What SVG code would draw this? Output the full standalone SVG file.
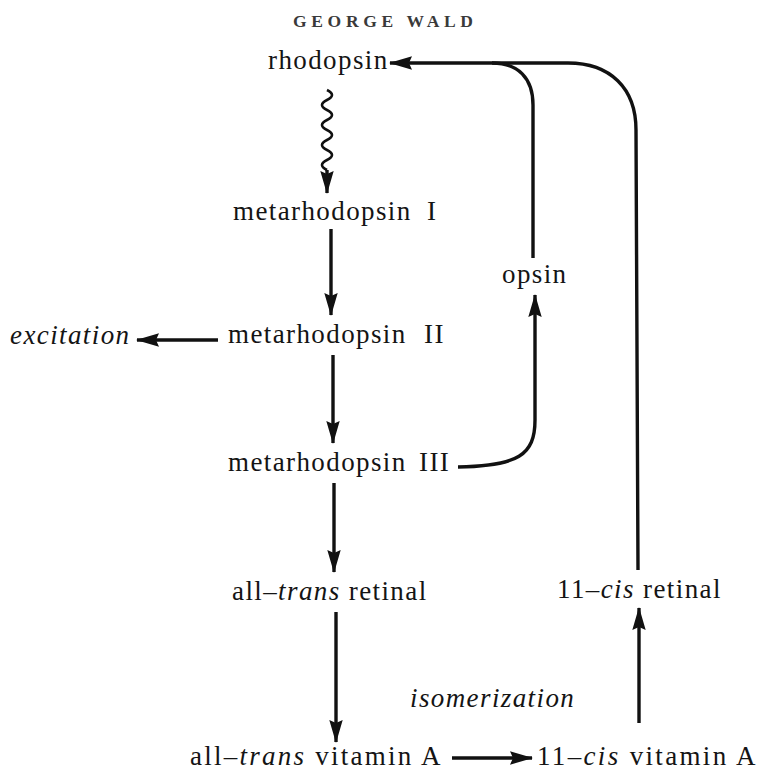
<svg xmlns="http://www.w3.org/2000/svg" width="759" height="770" viewBox="0 0 759 770">
<style>
  .t { font-family: "Liberation Serif", "Times New Roman", serif; font-size: 27px; letter-spacing: 1.4px; fill: #141414; }
  .i { font-style: italic; }
  .hdr { font-family: "Liberation Serif", "Times New Roman", serif; font-size: 17.5px; font-weight: bold; fill: #3a3a3a; }
  .c { fill: none; stroke: #111; stroke-width: 3.4; stroke-linecap: butt; stroke-linejoin: round; }
  .w { fill: none; stroke: #111; stroke-width: 2.6; }
</style>
<defs>
  <marker id="ah" viewBox="0 0 23 15" refX="22" refY="7.5" markerWidth="23" markerHeight="15" markerUnits="userSpaceOnUse" orient="auto">
    <path d="M0,0.8 L23,7.5 L0,14.2 L3,7.5 z" fill="#111"/>
  </marker>
</defs>
<rect width="759" height="770" fill="#fff"/>

<g id="header"><text class="hdr" x="293" y="27" textLength="180" lengthAdjust="spacing">GEORGE WALD</text></g>

<g id="rhodopsin"><text class="t" x="268" y="69">rhodopsin</text></g>
<g id="metarhodopsin-I"><text class="t" x="233" y="220">metarhodopsin<tspan x="427">I</tspan></text></g>
<g id="metarhodopsin-II"><text class="t" x="228" y="343">metarhodopsin<tspan x="424">II</tspan></text></g>
<g id="excitation"><text class="t i" x="10" y="344">excitation</text></g>
<g id="metarhodopsin-III"><text class="t" x="228" y="471">metarhodopsin<tspan x="419">III</tspan></text></g>
<g id="opsin"><text class="t" x="502" y="283">opsin</text></g>
<g id="all-trans-retinal"><text class="t" x="232" y="600">all–<tspan class="i">trans</tspan> retinal</text></g>
<g id="cis-retinal"><text class="t" x="557" y="598">11–<tspan class="i">cis</tspan> retinal</text></g>
<g id="isomerization"><text class="t i" x="410" y="707">isomerization</text></g>
<g id="all-trans-vitamin-A"><text class="t" x="190" y="765" textLength="252" lengthAdjust="spacing">all–<tspan class="i">trans</tspan> vitamin  A</text></g>
<g id="cis-vitamin-A"><text class="t" x="537" y="765" textLength="220" lengthAdjust="spacing">11–<tspan class="i">cis</tspan> vitamin  A</text></g>

<g id="connectors">
  <path class="w" d="M327,90 q10,5 0,10 t0,10 t0,10 t0,10 t0,10 t0,10 t0,10 t0,10" />
  <path class="c" d="M327,170 L327,193" marker-end="url(#ah)"/>
  <path class="c" d="M331,229 V315" marker-end="url(#ah)"/>
  <path class="c" d="M333,355 V443" marker-end="url(#ah)"/>
  <path class="c" d="M334,483 V572" marker-end="url(#ah)"/>
  <path class="c" d="M336,612 V742" marker-end="url(#ah)"/>
  <path class="c" d="M218,340 H137" marker-end="url(#ah)"/>
  <path class="c" d="M452,758 H532" marker-end="url(#ah)"/>
  <path class="c" d="M639,723 V608" marker-end="url(#ah)"/>
  <path class="c" d="M638,570 L636,130 C636,88 610,63 568,63 H390" marker-end="url(#ah)"/>
  <path class="c" d="M533,258 V105 C533,78 518,63 492,63"/>
  <path class="c" d="M458,467 C518,466 535,455 535,420 V295" marker-end="url(#ah)"/>
</g>
</svg>
